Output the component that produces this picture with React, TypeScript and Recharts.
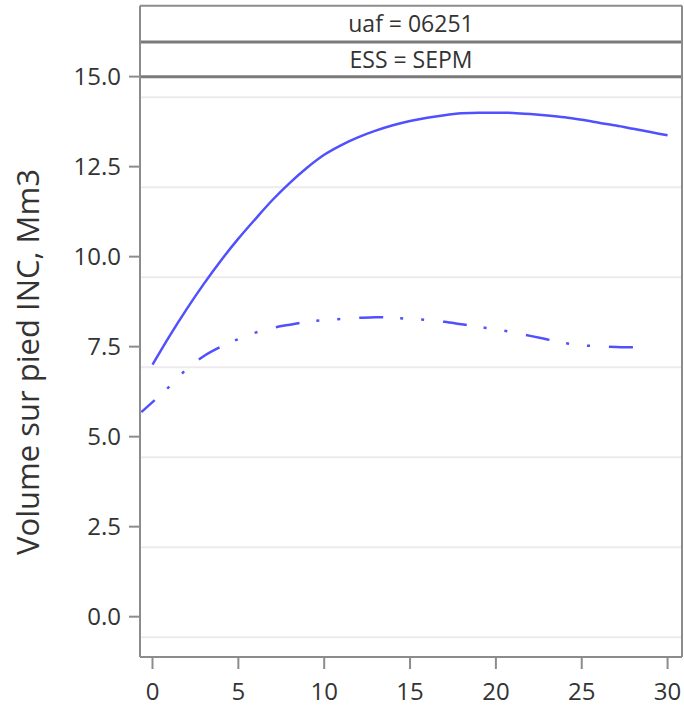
import React from "react";
import { LineChart, Line, XAxis, YAxis, ReferenceLine, ReferenceArea, Label } from "recharts";

const xTicks = [0, 5, 10, 15, 20, 25, 30];
const yTicks = [0, 2.5, 5, 7.5, 10, 12.5, 15];
const gridValues = [14.43, 11.93, 9.43, 6.93, 4.43, 1.93, -0.57];
const headerLabels = ["uaf = 06251", "ESS = SEPM"];
const yLabel = "Volume sur pied INC, Mm3";

const solidX = [0, 1, 2, 3, 4, 5, 6, 7, 8, 9, 10, 11, 12, 13, 14, 15, 16, 17, 18, 19, 20, 21, 22, 23, 24, 25, 26, 27, 28, 29, 30];
const solidV = [7.0, 7.8, 8.55, 9.25, 9.9, 10.5, 11.05, 11.58, 12.05, 12.47, 12.83, 13.1, 13.32, 13.5, 13.65, 13.77, 13.86, 13.93, 13.98, 14.0, 14.0, 13.99, 13.96, 13.92, 13.87, 13.8, 13.72, 13.64, 13.55, 13.46, 13.37];

const dashX = [-0.65, 0, 1, 2, 3, 4, 5, 6, 7, 8, 9, 10, 11, 12, 13, 14, 15, 16, 17, 18, 19, 20, 21, 22, 23, 24, 25, 26, 27, 28, 28.4];
const dashV = [5.68, 5.96, 6.4, 6.88, 7.24, 7.5, 7.71, 7.89, 8.02, 8.11, 8.19, 8.24, 8.27, 8.3, 8.32, 8.3, 8.27, 8.24, 8.19, 8.12, 8.05, 7.98, 7.9, 7.8, 7.7, 7.6, 7.54, 7.51, 7.49, 7.48, 7.48];

const solidData = solidX.map((x, i) => ({ x, v: solidV[i] }));
const dashData = dashX.map((x, i) => ({ x, v: dashV[i] }));

const X_DOMAIN: [number, number] = [-0.728, 30.84];
const Y_DOMAIN: [number, number] = [-1.12, 16.97];
const HEADER_MID = 15.96;

const FONT = "'Open Sans', 'DejaVu Sans', sans-serif";
const AXIS_GRAY = "#8c8c8c";
const BLUE = "#5050ff";

const YLabelContent = () => (
  <text
    x={27}
    y={362}
    transform="rotate(-90, 27, 362)"
    textAnchor="middle"
    dominantBaseline="central"
    fill="#333"
    fontSize={31}
    fontFamily={FONT}
  >
    {yLabel}
  </text>
);

export default function App() {
  return (
    <div style={{ position: "absolute", left: 0, top: 0, width: 684, height: 709, background: "#fff" }}>
      <LineChart width={684} height={709} margin={{ top: 5.7, right: 2, bottom: 0, left: 0 }}>
        <XAxis
          dataKey="x"
          type="number"
          domain={X_DOMAIN}
          allowDataOverflow
          ticks={xTicks}
          height={52}
          tickSize={12}
          tickMargin={14}
          axisLine={{ stroke: AXIS_GRAY, strokeWidth: 2 }}
          tickLine={{ stroke: AXIS_GRAY, strokeWidth: 2 }}
          tick={{ fill: "#333", fontSize: 24, fontFamily: FONT }}
        />
        <YAxis
          type="number"
          domain={Y_DOMAIN}
          allowDataOverflow
          ticks={yTicks}
          width={140}
          tickSize={11}
          tickMargin={8}
          tickFormatter={(v: number) => v.toFixed(1)}
          axisLine={{ stroke: AXIS_GRAY, strokeWidth: 2 }}
          tickLine={{ stroke: AXIS_GRAY, strokeWidth: 2 }}
          tick={{ fill: "#333", fontSize: 24, fontFamily: FONT }}
        >
          <Label content={YLabelContent} />
        </YAxis>
        {gridValues.map((g) => (
          <ReferenceLine key={g} y={g} stroke="#eee9ec" strokeWidth={2} />
        ))}
        <ReferenceArea
          y1={HEADER_MID}
          y2={Y_DOMAIN[1]}
          x1={X_DOMAIN[0]}
          x2={X_DOMAIN[1]}
          fill="#fff"
          fillOpacity={1}
          stroke="none"
          label={{ value: headerLabels[0], position: "center", fill: "#333", fontSize: 23, fontFamily: FONT }}
        />
        <ReferenceArea
          y1={15}
          y2={HEADER_MID}
          x1={X_DOMAIN[0]}
          x2={X_DOMAIN[1]}
          fill="#fff"
          fillOpacity={1}
          stroke="none"
          label={{ value: headerLabels[1], position: "center", fill: "#333", fontSize: 23, fontFamily: FONT }}
        />
        <ReferenceLine y={15} stroke="#7a7a7a" strokeWidth={3} />
        <ReferenceLine y={HEADER_MID} stroke="#7a7a7a" strokeWidth={3} />
        <ReferenceLine y={Y_DOMAIN[1]} stroke={AXIS_GRAY} strokeWidth={2} />
        <ReferenceLine x={X_DOMAIN[1]} stroke={AXIS_GRAY} strokeWidth={2} />
        <Line
          data={solidData}
          dataKey="v"
          type="monotone"
          stroke={BLUE}
          strokeWidth={2.5}
          dot={false}
          activeDot={false}
          isAnimationActive={false}
        />
        <Line
          data={dashData}
          dataKey="v"
          type="monotone"
          stroke={BLUE}
          strokeWidth={2.5}
          strokeDasharray="24 17 3 18 3 19"
          strokeDashoffset={6}
          dot={false}
          activeDot={false}
          isAnimationActive={false}
        />
      </LineChart>
    </div>
  );
}
